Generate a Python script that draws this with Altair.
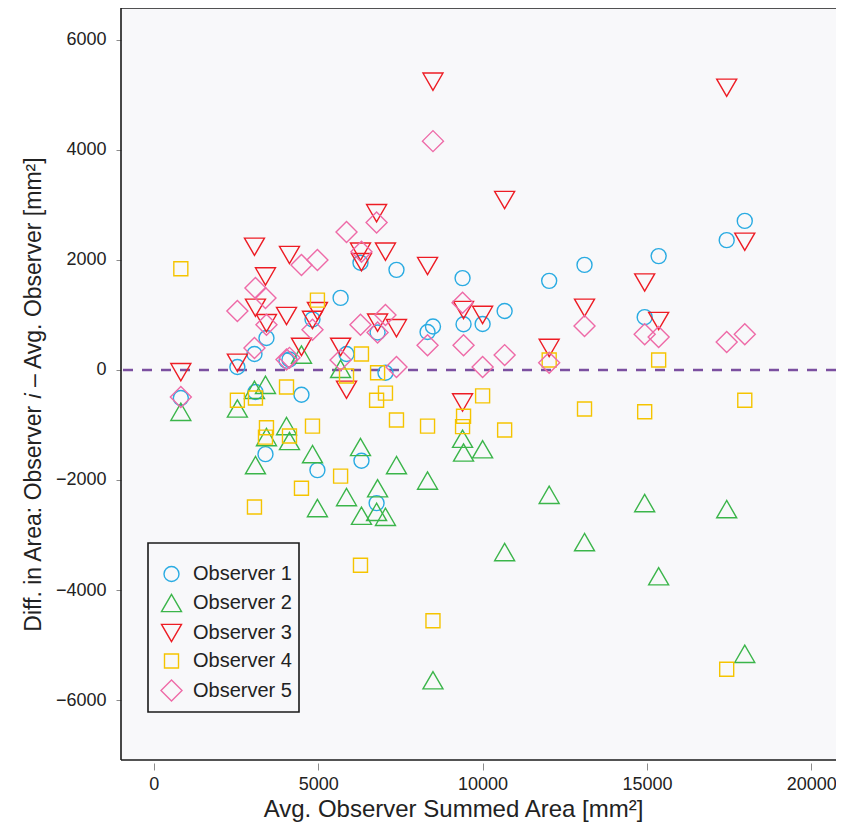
import altair as alt
import pandas as pd

# Average observer summed area per case [mm^2]
area = [820, 2540, 3060, 3090, 3395, 3425, 4035, 4125, 4490, 4825,
        4975, 5680, 5860, 6285, 6315, 6775, 6805, 7045, 7380, 8325,
        8490, 9390, 9420, 10000, 10670, 12025, 13100, 14930, 15355, 17425,
        17975]

# Difference: observer i minus average observer [mm^2]
obs1 = [-510, 55, 290, -400, -1530, 580, 170, 190, -450, 920,
        -1820, 1310, 290, 1950, -1650, -2420, 680, -50, 1820, 690,
        790, 1670, 830, 836, 1073, 1620, 1910, 960, 2070, 2360,
        2710]
obs2 = [-760, -700, -360, -1730, -270, -1220, -1020, -1290, 280, -1530,
        -2510, 20, -2310, -1400, -2650, -2580, -2150, -2670, -1730, -2010,
        -5640, -1250, -1500, -1440, -3310, -2270, -3130, -2420, -3750, -2530,
        -5160]
obs3 = [-40, 130, 2240, 1130, 1700, 850, 980, 2090, 420, 910,
        1070, 420, -360, 2150, 1960, 2850, 860, 2150, 760, 1890,
        5240, -590, 1090, 1000, 3090, 400, 1130, 1590, 890, 5130,
        2330]
obs4 = [1840, -550, -2490, -510, -1220, -1050, -310, -1200, -2150, -1020,
        1270, -1930, -110, -3550, 290, -550, -50, -420, -910, -1020,
        -4560, -1030, -840, -470, -1090, 180, -710, -760, 180, -5440,
        -550]
obs5 = [-490, 1070, 400, 1490, 1310, 820, 190, 220, 1910, 730,
        2000, 180, 2510, 820, 2150, 2680, 680, 1000, 55, 450,
        4160, 1220, 450, 55, 270, 130, 800, 650, 600, 510,
        650]

names = ["Observer 1", "Observer 2", "Observer 3", "Observer 4", "Observer 5"]
colors = ["#29ABE2", "#3BB54A", "#ED1C24", "#F5C400", "#EE6AA7"]
shapes = ["circle", "triangle-up", "triangle-down", "square", "diamond"]
sizes = [225, 400, 400, 196, 441]

x_ticks = [0, 5000, 10000, 15000, 20000]
y_ticks = [-6000, -4000, -2000, 0, 2000, 4000, 6000]
x_domain = [-1000, 20750]
y_domain = [-7090, 6580]

rows = []
for name, vals in zip(names, [obs1, obs2, obs3, obs4, obs5]):
    for a, v in zip(area, vals):
        rows.append({"area": a, "diff": v, "observer": name})
df = pd.DataFrame(rows)

FONT = "Liberation Sans"
TXT = "#222222"

xscale = alt.Scale(domain=x_domain, nice=False, zero=False)
yscale = alt.Scale(domain=y_domain, nice=False, zero=False)

leg = alt.Legend(
    title=None, orient="none", legendX=39, legendY=556, padding=0,
    labelFontSize=20, labelFont=FONT, labelColor=TXT, labelOffset=10,
    rowPadding=6, symbolStrokeWidth=1.4,
)

points = alt.Chart(df).mark_point(filled=False, strokeWidth=1.4, opacity=1).encode(
    x=alt.X("area:Q", scale=xscale,
            axis=alt.Axis(title="Avg. Observer Summed Area [mm²]", values=x_ticks,
                          format="d", titleX=332, titleY=53,
                          titleBaseline="alphabetic", titleAlign="center")),
    y=alt.Y("diff:Q", scale=yscale,
            axis=alt.Axis(title="Diff. in Area: Observer 𝑖 – Avg. Observer [mm²]",
                          values=y_ticks, format="d", titleX=-81, titleY=386,
                          titleAngle=270, titleBaseline="alphabetic",
                          titleAlign="center", titleFontSize=23)),
    color=alt.Color("observer:N", scale=alt.Scale(domain=names, range=colors), legend=leg),
    shape=alt.Shape("observer:N", scale=alt.Scale(domain=names, range=shapes), legend=leg),
    size=alt.Size("observer:N", scale=alt.Scale(type="ordinal", domain=names, range=sizes), legend=leg),
)

zero_line = alt.Chart(pd.DataFrame({"z": [0]})).mark_rule(
    color="#7B4FA0", strokeWidth=2.6, strokeDash=[10, 9]
).encode(y=alt.Y("z:Q", scale=yscale))

frame_top = alt.Chart(pd.DataFrame({"t": [y_domain[1]]})).mark_rule(
    color="#1a1a1a", strokeWidth=1.6
).encode(y=alt.Y("t:Q", scale=yscale))
frame_bottom = alt.Chart(pd.DataFrame({"b": [y_domain[0]]})).mark_rule(
    color="#1a1a1a", strokeWidth=1.6
).encode(y=alt.Y("b:Q", scale=yscale))
frame_left = alt.Chart(pd.DataFrame({"l": [x_domain[0]]})).mark_rule(
    color="#1a1a1a", strokeWidth=1.6
).encode(x=alt.X("l:Q", scale=xscale))

legend_box = alt.Chart(pd.DataFrame({"k": [0]})).mark_rect(
    fill="#f8f8fa", stroke="#1a1a1a", strokeWidth=1.6
).encode(x=alt.value(27), x2=alt.value(178), y=alt.value(535), y2=alt.value(704))

chart = alt.layer(zero_line, points, frame_top, frame_bottom, frame_left, legend_box).properties(
    width=715, height=752,
    autosize=alt.AutoSizeParams(type="none"),
    padding={"left": 113, "top": 0, "right": 0, "bottom": 62},
    background="white",
).configure_view(
    strokeWidth=0, stroke="transparent", fill="#f8f8fa"
).configure_axis(
    grid=False, domain=False,
    labelFont=FONT, labelFontSize=18, labelColor=TXT,
    titleFont=FONT, titleFontSize=24, titleFontWeight="normal", titleColor=TXT,
    tickColor="#8c8c8c", tickWidth=1,
).configure_axisY(
    tickSize=5, labelPadding=10,
).configure_axisX(
    tickSize=7, offset=3, labelPadding=5,
)

chart.save("out.html", embed_options={"renderer": "svg", "actions": False})
